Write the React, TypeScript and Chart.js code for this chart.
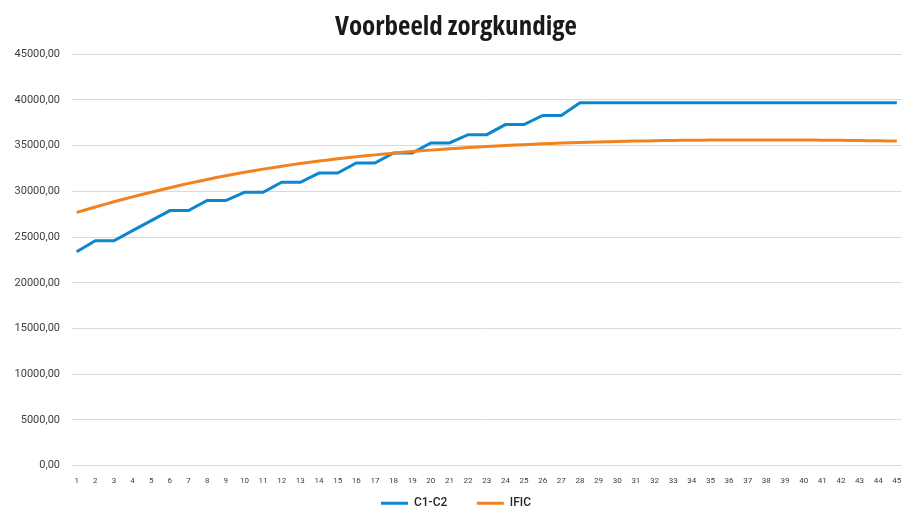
import { useEffect, useRef } from 'react';
import { Chart, registerables } from 'chart.js';

Chart.register(...registerables);

const TITLE = 'Voorbeeld zorgkundige';

const X_LABELS = [
  '1', '2', '3', '4', '5', '6', '7', '8', '9', '10',
  '11', '12', '13', '14', '15', '16', '17', '18', '19', '20',
  '21', '22', '23', '24', '25', '26', '27', '28', '29', '30',
  '31', '32', '33', '34', '35', '36', '37', '38', '39', '40',
  '41', '42', '43', '44', '45',
];

const C1C2 = [
  23400, 24600, 24600, 25700, 26800, 27900, 27900, 29000, 29000, 29900,
  29900, 31000, 31000, 32000, 32000, 33100, 33100, 34200, 34200, 35300,
  35300, 36200, 36200, 37300, 37300, 38300, 38300, 39700, 39700, 39700,
  39700, 39700, 39700, 39700, 39700, 39700, 39700, 39700, 39700, 39700,
  39700, 39700, 39700, 39700, 39700,
];

const IFIC = [
  27700, 28290, 28860, 29400, 29910, 30400, 30870, 31300, 31710, 32080,
  32430, 32750, 33040, 33310, 33560, 33790, 33990, 34180, 34360, 34510,
  34660, 34790, 34910, 35020, 35110, 35200, 35280, 35350, 35410, 35460,
  35500, 35540, 35570, 35590, 35610, 35620, 35625, 35625, 35620, 35610,
  35600, 35580, 35560, 35530, 35500,
];

const SERIES_NAMES = ['C1-C2', 'IFIC'];
const Y_MIN = 0;
const Y_MAX = 45000;
const Y_STEP = 5000;

const BLUE = '#0a87cf';
const ORANGE = '#f2821f';

const TITLE_TARGET_WIDTH = 242;

function pickTitleFont() {
  const cands = [
    { weight: 'bold condensed', family: "'Noto Sans'" },
    { weight: 'bold extra-condensed', family: "'Noto Sans'" },
    { weight: 'bold semi-condensed', family: "'Noto Sans'" },
    { weight: 'bold condensed', family: "'Open Sans'" },
    { weight: 'bold semi-condensed', family: "'Open Sans'" },
    { weight: 'bold', family: "'Liberation Sans Narrow'" },
    { weight: 'bold condensed', family: "'DejaVu Sans'" },
    { weight: 'bold', family: "'DejaVu Sans Condensed'" },
    { weight: 'bold', family: 'Roboto' },
  ];
  const c = document.createElement('canvas').getContext('2d');
  let best = { weight: 'bold', family: 'Roboto', size: 21 };
  if (!c) return best;
  let bestDiff = Infinity;
  for (const cd of cands) {
    c.font = '10px monospace';
    c.font = `${cd.weight} 26px ${cd.family}`;
    if (c.font.indexOf('monospace') >= 0) continue;
    const w = c.measureText(TITLE).width;
    const d = Math.abs(w - TITLE_TARGET_WIDTH);
    if (d < bestDiff) {
      bestDiff = d;
      const size = Math.max(19, Math.min(30, (26 * TITLE_TARGET_WIDTH) / w));
      best = { weight: cd.weight, family: cd.family, size };
    }
  }
  return best;
}

const LEGEND_GAP = '      ';

export default function App() {
  const ref = useRef<HTMLCanvasElement>(null);

  useEffect(() => {
    if (!ref.current) return;
    const tf = pickTitleFont();
    const titleLine = tf.size * 1.2;
    const titleTop = 27.8 - titleLine / 2;
    const titleBottom = 54.2 - titleTop - titleLine;

    const chart = new Chart(ref.current, {
      type: 'line',
      data: {
        datasets: [
          {
            label: SERIES_NAMES[0],
            data: C1C2.map((v, i) => ({ x: i + 1, y: v })),
            borderColor: BLUE,
            backgroundColor: BLUE,
            borderWidth: 3,
            pointRadius: 0,
            tension: 0,
            order: 1,
            yAxisID: 'y',
          },
          {
            label: SERIES_NAMES[1],
            data: IFIC.map((v, i) => ({ x: i + 1, y: v })),
            borderColor: ORANGE,
            backgroundColor: ORANGE,
            borderWidth: 3,
            pointRadius: 0,
            tension: 0.3,
            order: 0,
            yAxisID: 'y',
          },
        ],
      },
      options: {
        responsive: false,
        animation: false,
        layout: { padding: { left: 0, right: 0, top: 0, bottom: -10.3 } },
        plugins: {
          title: {
            display: true,
            text: TITLE,
            color: '#1a1a1a',
            font: { family: tf.family, size: tf.size, weight: tf.weight, lineHeight: 1.2 },
            padding: { top: titleTop, bottom: titleBottom },
          },
          legend: {
            position: 'bottom',
            labels: {
              usePointStyle: true,
              pointStyle: 'line',
              pointStyleWidth: 27,
              boxHeight: 12,
              padding: 11.6,
              color: '#262626',
              font: { family: 'Roboto, sans-serif', size: 12, weight: 500 },
              generateLabels: (ch: any) => {
                const items = (Chart.defaults as any).plugins.legend.labels.generateLabels(ch);
                return items.map((it: any) =>
                  it.datasetIndex === 0 ? { ...it, text: it.text + LEGEND_GAP } : it
                );
              },
              sort: (a: any, b: any) => a.datasetIndex - b.datasetIndex,
            },
          },
          tooltip: { enabled: false },
        },
        scales: {
          x: {
            type: 'linear',
            min: 0.75,
            max: 45.25,
            grid: { display: false, drawTicks: false },
            border: { display: false },
            ticks: {
              autoSkip: false,
              maxRotation: 0,
              minRotation: 0,
              padding: 10,
              color: '#404040',
              font: { family: 'Roboto, sans-serif', size: 8 },
              callback: (v: any) => X_LABELS[Math.round(Number(v)) - 1] ?? '',
            },
            afterBuildTicks: (s: any) => {
              s.ticks = X_LABELS.map((_, i) => ({ value: i + 1 }));
            },
            afterFit: (s: any) => {
              s.height = 20;
            },
          },
          y: {
            position: 'left',
            min: Y_MIN,
            max: Y_MAX,
            grid: { color: '#d9d9d9', lineWidth: 1, drawTicks: false },
            border: { display: false },
            ticks: {
              stepSize: Y_STEP,
              padding: 12,
              color: '#404040',
              font: { family: 'Roboto, sans-serif', size: 11 },
              callback: (v: any) => Number(v).toFixed(2).replace('.', ','),
            },
            afterFit: (s: any) => {
              s.width = 72;
            },
          },
          yRight: {
            position: 'right',
            display: true,
            grid: { display: false, drawTicks: false },
            border: { display: false },
            ticks: { display: false },
            afterFit: (s: any) => {
              s.width = 10.5;
            },
          },
        },
      } as any,
    });
    return () => chart.destroy();
  }, []);

  return (
    <div style={{ position: 'fixed', left: 0, top: 0, width: 912, height: 509, background: '#ffffff' }}>
      <canvas ref={ref} width={912} height={509} style={{ display: 'block' }} />
    </div>
  );
}
